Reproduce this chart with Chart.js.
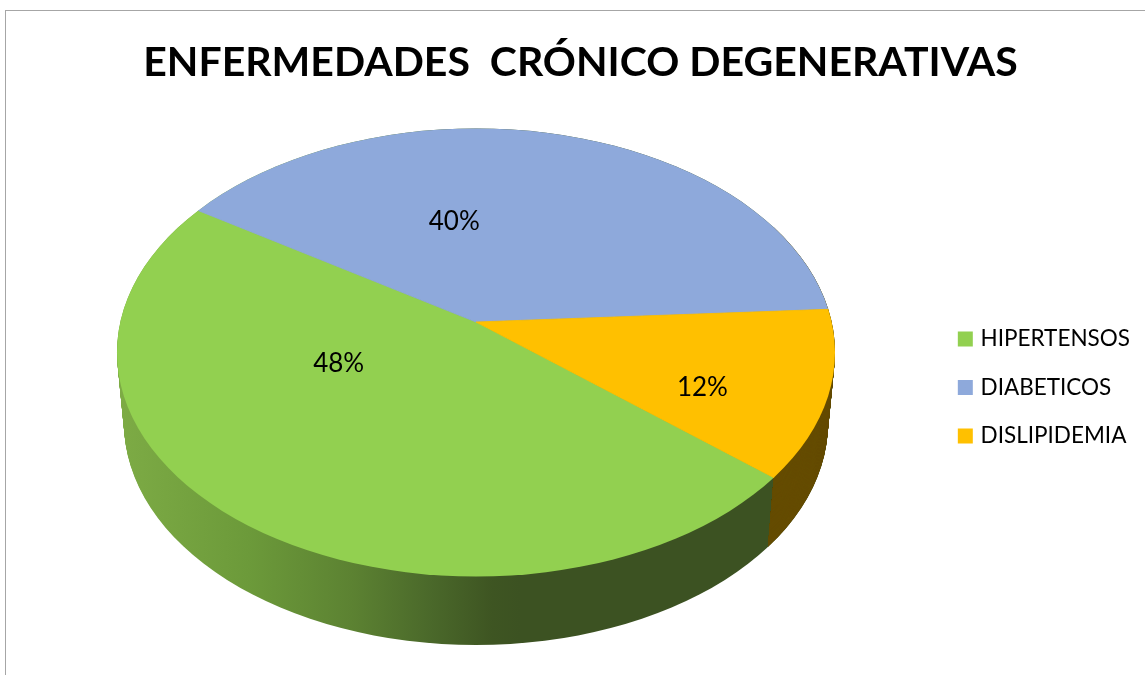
<!DOCTYPE html>
<html>
<head>
<meta charset="utf-8">
<script src="https://cdn.jsdelivr.net/npm/chart.js@4"></script>
<style>
    body { margin: 0; background: #fff; overflow: hidden; }
    #frame { position: absolute; left: 5px; top: 10px; right: 0; bottom: 0; border-top: 1.5px solid #a6a6a6; border-left: 1.5px solid #a6a6a6; }
    #myChart { position: absolute; left: 0; top: 0; }
</style>
</head>
<body>
<div id="frame"></div>
<canvas id="myChart" width="1145" height="675"></canvas>
<script>
const categories = ['HIPERTENSOS', 'DIABETICOS', 'DISLIPIDEMIA'];
const percentages = [48, 40, 12];
const colors = ['#92D050', '#8EA9DB', '#FFC000'];

// Forma de la tarta en pantalla (vista 3D simulada)
const vertex = { x: 476, y: 322 };
const squash = 0.625;
const topFace = { x: 476, y: 352.5, rx: 359, ry: 224 };
const bottomFace = { x: 476, y: 423, rx: 352, ry: 222 };
const labelNudge = [[-13, -64], [-75, 27], [27, 24]];
const legendShift = 31;

function ellipsePath(ctx, e) {
    ctx.beginPath();
    ctx.ellipse(e.x, e.y, e.rx, e.ry, 0, 0, Math.PI * 2);
}

// Dónde corta en el borde de la elipse el radio de un ángulo dado
function rimAngle(angle) {
    const dx = Math.cos(angle);
    const dy = Math.sin(angle) * squash;
    const ox = (vertex.x - topFace.x) / topFace.rx;
    const oy = (vertex.y - topFace.y) / topFace.ry;
    const ux = dx / topFace.rx;
    const uy = dy / topFace.ry;
    const a = ux * ux + uy * uy;
    const b = 2 * (ox * ux + oy * uy);
    const c = ox * ox + oy * oy - 1;
    const t = (-b + Math.sqrt(b * b - 4 * a * c)) / (2 * a);
    return Math.atan2(oy + uy * t, ox + ux * t);
}

function sweepSide(ctx, fill) {
    ctx.fillStyle = fill;
    const steps = 70;
    for (let i = steps; i >= 0; i--) {
        const t = i / steps;
        ellipsePath(ctx, {
            x: topFace.x,
            y: topFace.y + (bottomFace.y - topFace.y) * t,
            rx: topFace.rx + (bottomFace.rx - topFace.rx) * t,
            ry: topFace.ry + (bottomFace.ry - topFace.ry) * t
        });
        ctx.fill();
    }
}

const pie3d = {
    id: 'pie3d',
    afterLayout(chart) {
        chart.legend.top += legendShift;
        chart.legend.bottom += legendShift;
    },
    beforeDatasetDraw(chart) {
        const ctx = chart.ctx;
        const arcs = chart.getDatasetMeta(0).data;

        // Lado verde con degradado
        const gradient = ctx.createLinearGradient(120, 0, 520, 0);
        gradient.addColorStop(0, '#7DAB45');
        gradient.addColorStop(0.32, '#6C9A3A');
        gradient.addColorStop(0.58, '#5C8232');
        gradient.addColorStop(0.78, '#4A682A');
        gradient.addColorStop(0.93, '#3E5522');
        gradient.addColorStop(1, '#3C5222');
        sweepSide(ctx, gradient);

        // Lado naranja, a la derecha de la unión con el verde
        const th = rimAngle(arcs[0].startAngle);
        const topX = topFace.x + topFace.rx * Math.cos(th);
        const topY = topFace.y + topFace.ry * Math.sin(th);
        const botX = bottomFace.x + bottomFace.rx * Math.cos(th);
        const botY = bottomFace.y + bottomFace.ry * Math.sin(th);
        ctx.save();
        ctx.beginPath();
        ctx.moveTo(topX, topY);
        ctx.lineTo(botX, botY);
        ctx.lineTo(botX, chart.height);
        ctx.lineTo(chart.width, chart.height);
        ctx.lineTo(chart.width, 0);
        ctx.lineTo(topX, 0);
        ctx.closePath();
        ctx.clip();
        sweepSide(ctx, '#654C00');
        ctx.restore();

        // Cara superior: los arcos de Chart.js aplastados y recortados
        ctx.save();
        ellipsePath(ctx, topFace);
        ctx.clip();
        ctx.translate(vertex.x, vertex.y);
        ctx.scale(1, squash);
        ctx.translate(-arcs[0].x, -arcs[0].y);
    },
    afterDatasetDraw(chart) {
        const ctx = chart.ctx;
        ctx.restore();

        const arcs = chart.getDatasetMeta(0).data;
        ctx.save();
        ctx.fillStyle = '#000';
        ctx.font = '26px Lato';
        ctx.textAlign = 'center';
        ctx.textBaseline = 'middle';
        arcs.forEach((arc, i) => {
            const mid = (arc.startAngle + arc.endAngle) / 2;
            const r = arc.outerRadius / 2;
            const x = vertex.x + Math.cos(mid) * r + labelNudge[i][0];
            const y = vertex.y + Math.sin(mid) * r * squash + labelNudge[i][1];
            ctx.fillText(percentages[i] + '%', x, y);
        });
        ctx.restore();
    }
};

new Chart(document.getElementById('myChart'), {
    type: 'pie',
    data: {
        labels: categories,
        datasets: [{
            data: percentages,
            backgroundColor: colors,
            borderColor: colors,
            borderWidth: 1,
            clip: false
        }]
    },
    options: {
        responsive: false,
        animation: false,
        rotation: 129.9,
        radius: 420,
        layout: { padding: { left: 21, right: 5, top: 38, bottom: 0 } },
        plugins: {
            tooltip: { enabled: false },
            title: {
                display: true,
                text: 'ENFERMEDADES  CRÓNICO DEGENERATIVAS',
                color: '#000',
                font: { family: 'Lato', size: 41, weight: 'bold' },
                padding: { top: 0, bottom: 10 }
            },
            legend: {
                position: 'right',
                labels: {
                    color: '#000',
                    font: { family: 'Lato', size: 22.5 },
                    boxWidth: 8,
                    boxHeight: 8,
                    padding: 26,
                    generateLabels(chart) {
                        const items = Chart.overrides.pie.plugins.legend.labels.generateLabels(chart);
                        // Cuadro de 15px: relleno + trazo, para acercar el texto como en el original
                        return items.map(item => ({ ...item, lineWidth: 7 }));
                    }
                }
            }
        }
    },
    plugins: [pie3d]
});
</script>
</body>
</html>
